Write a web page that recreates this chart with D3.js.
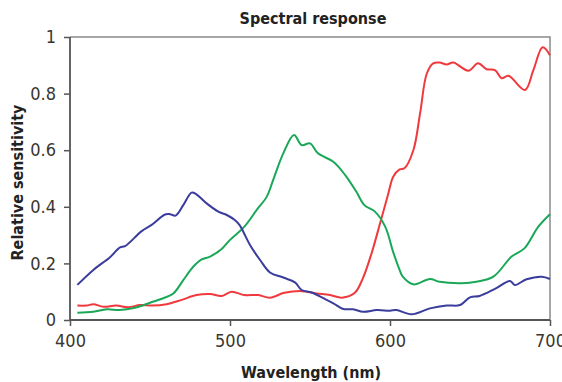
<!DOCTYPE html>
<html>
<head>
<meta charset="utf-8">
<script src="https://cdn.jsdelivr.net/npm/d3@7"></script>
<style>
  body { margin: 0; background: #fff; }
  text { font-family: "DejaVu Sans Condensed", "DejaVu Sans", sans-serif; font-stretch: condensed; }
</style>
</head>
<body>
<div id="chart"></div>
<script>
const width = 562;
const height = 382;
const margin = { top: 37, right: 12, bottom: 62, left: 70 };

// 刻度
const xTicks = [400, 500, 600, 700];
const yTicks = [0, 0.2, 0.4, 0.6, 0.8, 1];

// 蓝色通道
const blueNm  = [404.6, 414.6, 425, 431.3, 434.4, 444.8, 451, 459.4, 462.5, 466, 470.8, 476, 478.8, 485.4, 492.7, 498, 503, 506, 508.3, 512.5, 518.8, 525, 533.3, 540.6, 544.8, 551, 558.3, 564.6, 570.8, 577, 583.3, 591.7, 600, 604, 613.5, 625, 635.4, 643.8, 650, 656, 665.6, 675, 678, 685.4, 694.8, 700];
const blueVal = [0.124, 0.177, 0.222, 0.257, 0.261, 0.314, 0.336, 0.373, 0.374, 0.369, 0.406, 0.45, 0.445, 0.412, 0.383, 0.371, 0.353, 0.335, 0.312, 0.265, 0.212, 0.168, 0.15, 0.133, 0.106, 0.097, 0.077, 0.059, 0.039, 0.038, 0.029, 0.035, 0.033, 0.035, 0.02, 0.041, 0.051, 0.053, 0.08, 0.085, 0.11, 0.138, 0.124, 0.144, 0.153, 0.145];

// 绿色通道
const greenNm  = [404.6, 414.6, 423, 431, 440.6, 450, 458.3, 464.6, 470.8, 477, 482.3, 487.5, 494.8, 500, 509, 516.7, 523, 527, 533.3, 540, 544.8, 550, 555, 564.6, 572, 579, 584, 590.6, 597, 602, 606, 608, 614.6, 625, 631, 644.8, 654, 664.6, 676, 684, 692.7, 700];
const greenVal = [0.026, 0.029, 0.038, 0.035, 0.043, 0.061, 0.077, 0.094, 0.141, 0.188, 0.214, 0.224, 0.251, 0.283, 0.33, 0.389, 0.436, 0.495, 0.589, 0.654, 0.618, 0.624, 0.589, 0.559, 0.512, 0.453, 0.406, 0.383, 0.33, 0.24, 0.177, 0.153, 0.126, 0.145, 0.135, 0.13, 0.135, 0.153, 0.224, 0.253, 0.33, 0.374];

// 红色通道
const redNm  = [404.6, 410.4, 414.6, 420.8, 429, 436.5, 443.8, 451, 460.4, 469.8, 479, 487.5, 494.8, 501, 509, 517.7, 525, 534, 544.8, 554, 562.5, 570, 578, 583, 588.5, 593.8, 599, 602, 606, 609, 614.6, 618.8, 623, 627, 631, 635.4, 639.6, 649, 655, 660.4, 665.6, 669.8, 674, 684.4, 689.6, 695.4, 700];
const redVal = [0.051, 0.051, 0.056, 0.047, 0.051, 0.045, 0.053, 0.051, 0.056, 0.071, 0.088, 0.092, 0.085, 0.1, 0.088, 0.088, 0.079, 0.096, 0.102, 0.094, 0.088, 0.079, 0.096, 0.147, 0.236, 0.342, 0.448, 0.506, 0.532, 0.536, 0.6, 0.73, 0.871, 0.907, 0.91, 0.903, 0.91, 0.881, 0.907, 0.886, 0.883, 0.854, 0.863, 0.813, 0.883, 0.964, 0.936];

const series = [
  { name: "red", color: "#f0393c", nm: redNm, val: redVal },
  { name: "green", color: "#1aa858", nm: greenNm, val: greenVal },
  { name: "blue", color: "#3a3d9c", nm: blueNm, val: blueVal }
];

const svg = d3.select("#chart")
  .append("svg")
  .attr("width", width)
  .attr("height", height);

const x = d3.scaleLinear()
  .domain([400, 700])
  .range([margin.left, width - margin.right]);

const y = d3.scaleLinear()
  .domain([0, 1])
  .range([height - margin.bottom, margin.top]);

// 边框（上、右）
svg.append("path")
  .attr("d", `M${x(400)},${y(1)}H${x(700)}V${y(0)}`)
  .attr("fill", "none")
  .attr("stroke", "#8a8a8a")
  .attr("stroke-width", 1.5);

// 坐标轴
const xAxis = svg.append("g")
  .attr("transform", `translate(0,${y(0)})`)
  .call(d3.axisBottom(x).tickValues(xTicks).tickSize(6).tickPadding(8).tickFormat(d3.format("d")));

const yAxis = svg.append("g")
  .attr("transform", `translate(${x(400)},0)`)
  .call(d3.axisLeft(y).tickValues(yTicks).tickSize(6).tickPadding(8).tickFormat(d => d));

[xAxis, yAxis].forEach(g => {
  g.select(".domain").attr("stroke", "#555").attr("stroke-width", 1.8);
  g.selectAll(".tick line").attr("stroke", "#555").attr("stroke-width", 1.5);
  g.selectAll(".tick text")
    .attr("fill", "#3a3631")
    .style("font-size", "18px");
});
yAxis.select(".domain").attr("d", `M0,${y(1)}V${y(0)}`);
xAxis.select(".domain").attr("d", `M${x(400)},0H${x(700)}`);

// 曲线
const line = d3.line()
  .x(d => x(d[0]))
  .y(d => y(d[1]))
  .curve(d3.curveCatmullRom.alpha(0.5));

series.forEach(s => {
  svg.append("path")
    .datum(s.nm.map((n, i) => [n, s.val[i]]))
    .attr("fill", "none")
    .attr("stroke", s.color)
    .attr("stroke-width", 2)
    .attr("stroke-linejoin", "round")
    .attr("d", line);
});

// 标题与轴标题
svg.append("text")
  .attr("x", 313)
  .attr("y", 24)
  .attr("text-anchor", "middle")
  .attr("font-weight", "bold")
  .style("font-size", "16px")
  .attr("fill", "#222")
  .text("Spectral response");

svg.append("text")
  .attr("x", 311)
  .attr("y", 378)
  .attr("text-anchor", "middle")
  .attr("font-weight", "bold")
  .style("font-size", "16px")
  .attr("fill", "#222")
  .text("Wavelength (nm)");

svg.append("text")
  .attr("transform", `translate(23,${(y(0) + y(1)) / 2 + 4}) rotate(-90)`)
  .attr("text-anchor", "middle")
  .attr("font-weight", "bold")
  .style("font-size", "16px")
  .attr("fill", "#222")
  .text("Relative sensitivity");
</script>
</body>
</html>
